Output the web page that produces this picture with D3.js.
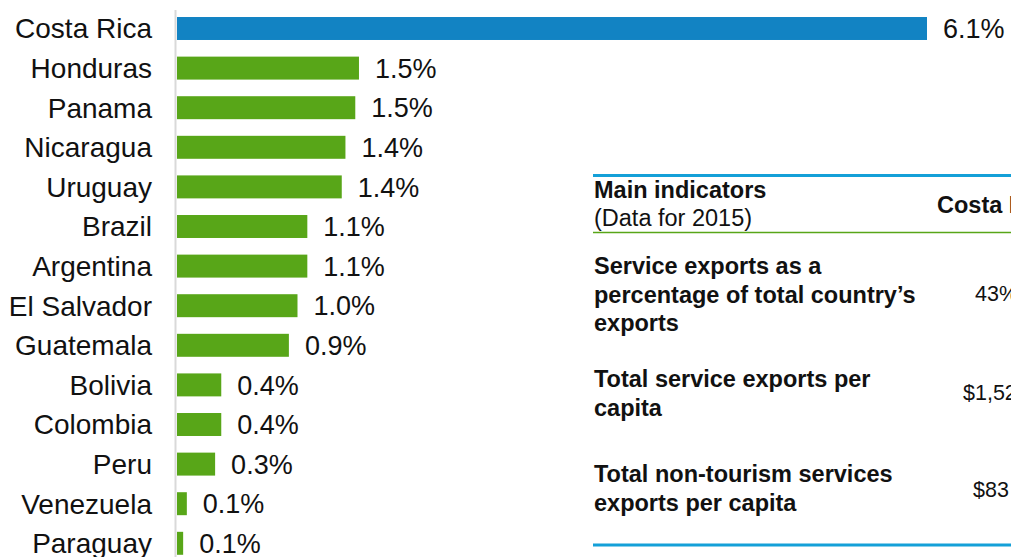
<!DOCTYPE html>
<html>
<head>
<meta charset="utf-8">
<script src="https://cdn.jsdelivr.net/npm/d3@7"></script>
<style>
  body { margin: 0; background: #fff; }
  svg { display: block; overflow: hidden; }
  text { font-family: "Liberation Sans", Arial, sans-serif; fill: #111; }
</style>
</head>
<body>
<div id="vis"></div>
<script>
// Service exports share, by country (bar lengths)
const countries = ['Costa Rica', 'Honduras', 'Panama', 'Nicaragua', 'Uruguay', 'Brazil', 'Argentina',
  'El Salvador', 'Guatemala', 'Bolivia', 'Colombia', 'Peru', 'Venezuela', 'Paraguay']
const shares = [6.1, 1.48, 1.45, 1.37, 1.34, 1.06, 1.06, 0.98, 0.91, 0.36, 0.36, 0.31, 0.08, 0.05]
const shareLabels = ['6.1%', '1.5%', '1.5%', '1.4%', '1.4%', '1.1%', '1.1%', '1.0%', '0.9%',
  '0.4%', '0.4%', '0.3%', '0.1%', '0.1%']

// Indicator table
const tableTitle = 'Main indicators'
const tableSubtitle = '(Data for 2015)'
const tableColumn = 'Costa Rica'
const indicators = [
  ['Service exports as a', 'percentage of total country\u2019s', 'exports'],
  ['Total service exports per', 'capita'],
  ['Total non-tourism services', 'exports per capita']
]
const indicatorValues = ['43%', '$1,52', '$83']

class BarChart {
  constructor() {
    this.width = 1011
    this.height = 557
    this.margin = { left: 177, right: 84, top: 9, bottom: 0 }
    this.initVis()
  }

  initVis() {
    let vis = this

    vis.svg = d3.select('#vis')
      .append('svg')
      .attr('width', vis.width)
      .attr('height', vis.height)

    // value -> pixel
    vis.xScale = d3.scaleLinear()
      .domain([0, 6.1])
      .range([vis.margin.left, 927])

    // country -> row
    vis.yScale = d3.scaleBand()
      .domain(countries)
      .range([vis.margin.top - 0.3, vis.margin.top - 0.3 + 14 * 39.6])
      .paddingInner(0.42)
      .paddingOuter(0.21)

    // left axis line
    vis.svg.append('line')
      .attr('x1', 175.5).attr('x2', 175.5)
      .attr('y1', 10).attr('y2', vis.height)
      .attr('stroke', '#d9d9d9')
      .attr('stroke-width', 2)

    const rows = countries.map((c, i) => ({ country: c, value: shares[i], label: shareLabels[i] }))

    vis.svg.append('g').selectAll('rect')
      .data(rows)
      .join('rect')
      .attr('x', vis.xScale(0))
      .attr('y', d => vis.yScale(d.country))
      .attr('width', d => vis.xScale(d.value) - vis.xScale(0))
      .attr('height', vis.yScale.bandwidth())
      .attr('fill', (d, i) => i === 0 ? '#1283c3' : '#58a618')

    // country names
    vis.svg.append('g').selectAll('text')
      .data(rows)
      .join('text')
      .attr('x', 152)
      .attr('y', d => vis.yScale(d.country) + vis.yScale.bandwidth() / 2)
      .attr('dy', '0.35em')
      .attr('text-anchor', 'end')
      .attr('font-size', 28)
      .text(d => d.country)

    // value labels
    vis.svg.append('g').selectAll('text')
      .data(rows)
      .join('text')
      .attr('x', d => vis.xScale(d.value) + 16)
      .attr('y', d => vis.yScale(d.country) + vis.yScale.bandwidth() / 2)
      .attr('dy', '0.36em')
      .attr('font-size', 27)
      .text(d => d.label)

    vis.renderTable()
  }

  renderTable() {
    let vis = this
    const t = vis.svg.append('g').attr('class', 'table')
    const left = 594

    t.append('line')
      .attr('x1', 593).attr('x2', vis.width)
      .attr('y1', 175.5).attr('y2', 175.5)
      .attr('stroke', '#14a0d8').attr('stroke-width', 3)

    t.append('text')
      .attr('x', left).attr('y', 198)
      .attr('font-size', 23.5).attr('font-weight', 'bold')
      .text(tableTitle)

    t.append('text')
      .attr('x', left).attr('y', 226)
      .attr('font-size', 23.5)
      .text(tableSubtitle)

    t.append('text')
      .attr('x', 937).attr('y', 213)
      .attr('font-size', 23.5).attr('font-weight', 'bold')
      .text(tableColumn)

    t.append('line')
      .attr('x1', 593).attr('x2', vis.width)
      .attr('y1', 232.5).attr('y2', 232.5)
      .attr('stroke', '#58a618').attr('stroke-width', 1.5)

    // row label first baselines and value baselines
    const rowTop = [274, 387, 482]
    const valueY = [301, 400, 497]
    const valueX = [975, 963, 973]

    indicators.forEach((lines, i) => {
      const txt = t.append('text')
        .attr('x', left).attr('y', rowTop[i])
        .attr('font-size', 23.5).attr('font-weight', 'bold')
      txt.selectAll('tspan')
        .data(lines)
        .join('tspan')
        .attr('x', left)
        .attr('dy', (d, j) => j === 0 ? 0 : 28.5)
        .text(d => d)

      t.append('text')
        .attr('x', valueX[i]).attr('y', valueY[i])
        .attr('font-size', 21.5)
        .text(indicatorValues[i])
    })

    t.append('line')
      .attr('x1', 593).attr('x2', vis.width)
      .attr('y1', 545).attr('y2', 545)
      .attr('stroke', '#14a0d8').attr('stroke-width', 3)
  }
}

new BarChart()
</script>
</body>
</html>
